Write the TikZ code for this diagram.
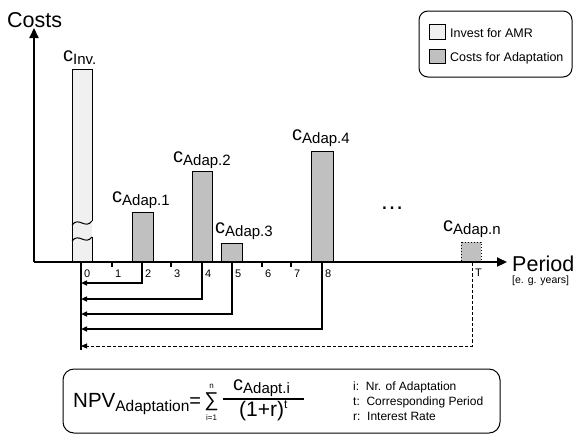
\documentclass[tikz,border=0pt]{standalone}
\usepackage{fontspec}
\setmainfont{Liberation Sans}
\usetikzlibrary{arrows.meta}
\definecolor{invfill}{HTML}{F0F0F0}
\definecolor{adapfill}{HTML}{C0C0C0}
\newcommand\fsz[1]{\fontsize{#1}{#1}\selectfont}
\newcommand\clbl[1]{{\fsz{20}c}\raisebox{-3.5pt}{\fsz{15}#1}}
\begin{document}
\begin{tikzpicture}[x=1pt,y=-1pt,
  lbl/.style={anchor=base west,inner sep=0pt},
  ticklbl/.style={anchor=base west,inner sep=0pt,font=\fsz{11}},
  barbox/.style={draw=black,line width=1pt,fill=adapfill},
  axisline/.style={line width=2.2pt,-{Triangle[length=10pt,width=9pt]}},
  tickline/.style={line width=1.3pt},
  npvline/.style={line width=1.4pt,-{Triangle[length=6pt,width=5pt]}},
  legendbox/.style={draw=black,line width=1pt,rounded corners=9pt},
  swatch/.style={draw=black,line width=0.8pt}]
\useasboundingbox (0,0) rectangle (577,437);

% ---- bars ----
\fill[invfill] (72,69) rectangle (92,262);
\draw[line width=1pt] (72,262) -- (72,69) -- (92,69) -- (92,221);
\draw[line width=1pt] (92,237) -- (92,262);
\draw[line width=1pt] (72,225) .. controls (79,216) and (85,230) .. (92,221);
\draw[line width=1pt] (72,241) .. controls (79,232) and (85,246) .. (92,237);
\draw[barbox] (132,212) rectangle (153,262);
\draw[barbox] (192,171) rectangle (212,262);
\draw[barbox] (221,243) rectangle (242,262);
\draw[barbox] (311,151) rectangle (333,262);
\draw[barbox,dotted] (461,242) rectangle (481,262);

% ---- bar labels ----
\node[lbl] (cinv) at (63,61) {\clbl{Inv.}};
\node[lbl] (c1) at (112,202) {\clbl{Adap.1}};
\node[lbl] (c2) at (173,162) {\clbl{Adap.2}};
\node[lbl] (c3) at (215,233) {\clbl{Adap.3}};
\node[lbl] (c4) at (292,140) {\clbl{Adap.4}};
\node[lbl] (cn) at (443,231) {\clbl{Adap.n}};
\node[lbl] (dots) at (380,209) {\fsz{24}…};

% ---- axes ----
\coordinate (origin) at (34,262);
\coordinate (ytop) at (34,28);
\coordinate (xend) at (507,262);
\draw[axisline] (origin) -- (ytop);
\draw[axisline] (origin) -- (xend);
\node[lbl] (costs) at (7,27) {\fsz{21.5}Costs};
\node[lbl] (period) at (512,271) {\fsz{21.5}Period};
\node[lbl] (years) at (512,283) {\fsz{10.5}[e. g. years]};

% ---- ticks ----
\foreach \n/\x in {1/112,3/171,6/262,7/291}{
  \draw[tickline] (\x,262) -- (\x,267);
  \node[ticklbl] (t\n) at (\x+3,277) {\n};
}
\foreach \n/\x in {0/81,2/142,4/202,5/232,8/322}{
  \node[ticklbl] (t\n) at (\x+3,277) {\n};
}
\node[ticklbl] (tT) at (475,276) {T};

% ---- discounting arrows ----
\coordinate (z0) at (81,262);
\coordinate (zend) at (81,350);
\draw[line width=1.6pt] (z0) -- (zend);
\foreach \x/\y in {142/283,202/299,232/314,322/329}{
  \draw[npvline] (\x,262) -- (\x,\y) -- (81,\y);
}
\draw[npvline,dash pattern=on 3.5pt off 2pt,line width=1pt] (472,262) -- (472,346) -- (81,346);

% ---- legend ----
\draw[legendbox] (419,11) rectangle (572,77);
\draw[swatch,fill=invfill] (429,24) rectangle (445,39);
\draw[swatch,fill=adapfill] (429,49) rectangle (445,63);
\node[lbl] (leg1) at (450,37) {\fsz{12.5}Invest for AMR};
\node[lbl] (leg2) at (450,61) {\fsz{12.5}Costs for Adaptation};

% ---- formula box ----
\draw[legendbox,rounded corners=11pt] (63,369) rectangle (500,433);
\node[lbl] (npv) at (73,407) {\fsz{20.5}NPV\raisebox{-4pt}{\fsz{15.5}Adaptation}\fsz{20}=};
\node[inner sep=0pt] (sum) at (211.5,401.5) {\fsz{20}∑};
\node[inner sep=0pt,anchor=south] (sumn) at (211.5,389) {\fsz{8}n};
\node[inner sep=0pt,anchor=north] (sumi) at (211.5,414) {\fsz{8}i=1};
\draw[line width=1.6pt] (223,399) -- (304,399);
\node[lbl] (num) at (233,390) {\clbl{Adapt.i}};
\node[lbl] (den) at (239,416) {\fsz{21}(1+r)\raisebox{7.5pt}{\fsz{12}t}};
\node[lbl] (di) at (353,390) {\fsz{12}i:\ \ Nr. of Adaptation};
\node[lbl] (dt) at (353,405) {\fsz{12}t:\ \ Corresponding Period};
\node[lbl] (dr) at (353,420) {\fsz{12}r:\ \ Interest Rate};
\end{tikzpicture}
\end{document}
